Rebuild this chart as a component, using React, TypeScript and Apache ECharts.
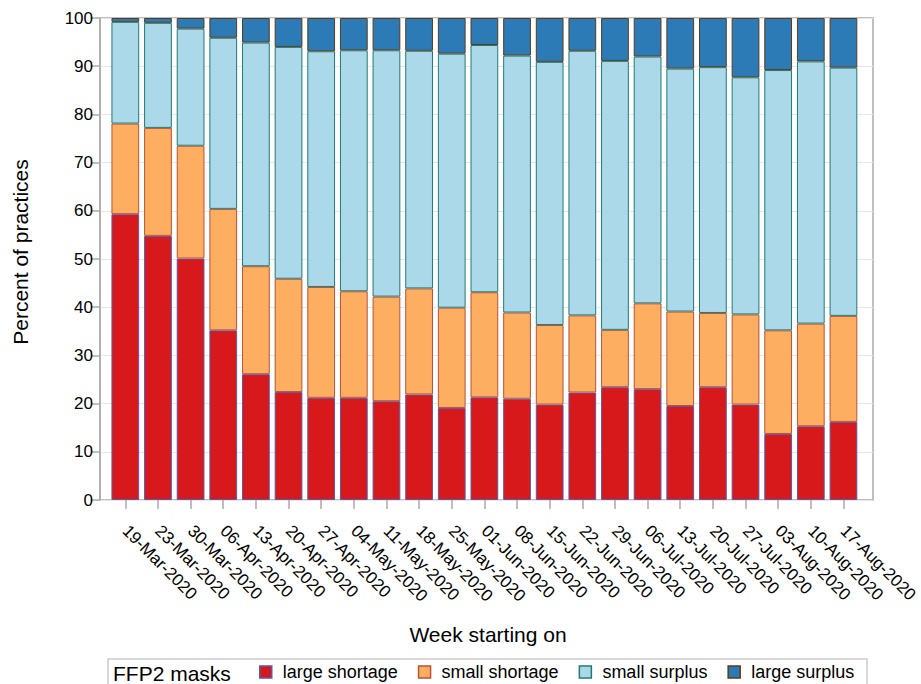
import React, { useEffect, useRef } from "react";
import * as echarts from "echarts";

const categories = [
  "19-Mar-2020", "23-Mar-2020", "30-Mar-2020", "06-Apr-2020", "13-Apr-2020", "20-Apr-2020",
  "27-Apr-2020", "04-May-2020", "11-May-2020", "18-May-2020", "25-May-2020", "01-Jun-2020",
  "08-Jun-2020", "15-Jun-2020", "22-Jun-2020", "29-Jun-2020", "06-Jul-2020", "13-Jul-2020",
  "20-Jul-2020", "27-Jul-2020", "03-Aug-2020", "10-Aug-2020", "17-Aug-2020",
];
const largeShortage = [59.3, 54.8, 50.1, 35.2, 26.1, 22.4, 21.2, 21.2, 20.5, 21.9, 19.1, 21.3, 21.0, 19.8, 22.3, 23.4, 23.0, 19.5, 23.4, 19.8, 13.7, 15.3, 16.2];
const smallShortage = [18.8, 22.4, 23.4, 25.2, 22.4, 23.5, 23.0, 22.1, 21.7, 22.0, 20.8, 21.8, 17.9, 16.5, 16.0, 11.9, 17.8, 19.6, 15.4, 18.7, 21.5, 21.3, 22.0];
const smallSurplus = [21.1, 21.8, 24.3, 35.5, 46.4, 48.1, 48.9, 50.0, 51.1, 49.3, 52.7, 51.3, 53.3, 54.6, 54.9, 55.8, 51.2, 50.4, 51.0, 49.2, 54.0, 54.4, 51.5];
const largeSurplus = [0.8, 1.0, 2.2, 4.1, 5.1, 6.0, 6.9, 6.7, 6.7, 6.8, 7.4, 5.6, 7.8, 9.1, 6.8, 8.9, 8.0, 10.5, 10.2, 12.3, 10.8, 9.0, 10.3];

const seriesNames = ["large shortage", "small shortage", "small surplus", "large surplus"];
const fills = ["#d7191c", "#fdae61", "#abd9e9", "#2c7bb6"];
const borders = ["#5a5aa8", "#b5533a", "#217a72", "#5a3b1e"];

const FONT = "'Liberation Sans', Arial, sans-serif";

export default function App() {
  const ref = useRef<HTMLDivElement>(null);
  useEffect(() => {
    if (!ref.current) return;
    const chart = echarts.init(ref.current, null, { renderer: "svg" });
    const dataSets = [largeShortage, smallShortage, smallSurplus, largeSurplus];
    chart.setOption({
      animation: false,
      backgroundColor: "#ffffff",
      textStyle: { fontFamily: FONT, color: "#000" },
      grid: [
        { left: 100, top: 18, width: 773, height: 482, show: true, borderColor: "#aaaaaa", borderWidth: 1.5, backgroundColor: "transparent" },
        { left: 109, top: 18, width: 755, height: 482 },
      ],
      xAxis: [
        { type: "value", gridIndex: 0, show: false, min: 0, max: 1 },
        {
          type: "category",
          gridIndex: 1,
          data: categories,
          axisLine: { show: false },
          axisTick: { show: true, alignWithLabel: true, length: 9, lineStyle: { color: "#aaaaaa", width: 1.5 } },
          axisLabel: { rotate: -45, margin: 28, fontSize: 17, color: "#000", fontFamily: FONT, interval: 0 },
        },
      ],
      yAxis: [
        {
          type: "value",
          gridIndex: 0,
          min: 0,
          max: 100,
          interval: 10,
          axisLine: { show: true, lineStyle: { color: "#aaaaaa", width: 1.5 } },
          axisTick: { show: true, length: 9, lineStyle: { color: "#aaaaaa", width: 1.5 } },
          axisLabel: { fontSize: 17, color: "#000", margin: 7, fontFamily: FONT },
          splitLine: { show: true, lineStyle: { color: "#e6e6e6", width: 1 } },
        },
        { type: "value", gridIndex: 1, min: 0, max: 100, show: false },
      ],
      legend: {
        left: 254,
        top: 658,
        itemWidth: 12,
        itemHeight: 12,
        itemGap: 20,
        icon: "rect",
        textStyle: { fontSize: 18, color: "#000", fontFamily: FONT, padding: [0, 0, 0, 6] },
        data: seriesNames.map((n, i) => ({
          name: n,
          itemStyle: { color: fills[i], borderColor: borders[i], borderWidth: 1.5 },
        })),
      },
      series: seriesNames.map((n, i) => ({
        name: n,
        type: "bar",
        stack: "total",
        xAxisIndex: 1,
        yAxisIndex: 1,
        barWidth: "85%",
        data: dataSets[i],
        itemStyle: { color: fills[i], borderColor: borders[i], borderWidth: 1 },
      })),
      graphic: [
        {
          type: "text",
          x: 20,
          y: 252,
          rotation: Math.PI / 2,
          style: { text: "Percent of practices", font: `21px ${FONT}`, fill: "#000", align: "center", verticalAlign: "middle" },
        },
        {
          type: "text",
          x: 488,
          y: 634,
          style: { text: "Week starting on", font: `21px ${FONT}`, fill: "#000", align: "center", verticalAlign: "middle" },
        },
        {
          type: "rect",
          shape: { x: 108, y: 659, width: 759, height: 40 },
          style: { fill: "none", stroke: "#cccccc", lineWidth: 1.5 },
        },
        {
          type: "text",
          x: 113,
          y: 673,
          style: { text: "FFP2 masks", font: `21px ${FONT}`, fill: "#000", align: "left", verticalAlign: "middle" },
        },
      ],
    });
    return () => chart.dispose();
  }, []);
  return (
    <div
      ref={ref}
      style={{ position: "fixed", left: 0, top: 0, width: 921, height: 684, background: "#fff" }}
    />
  );
}
